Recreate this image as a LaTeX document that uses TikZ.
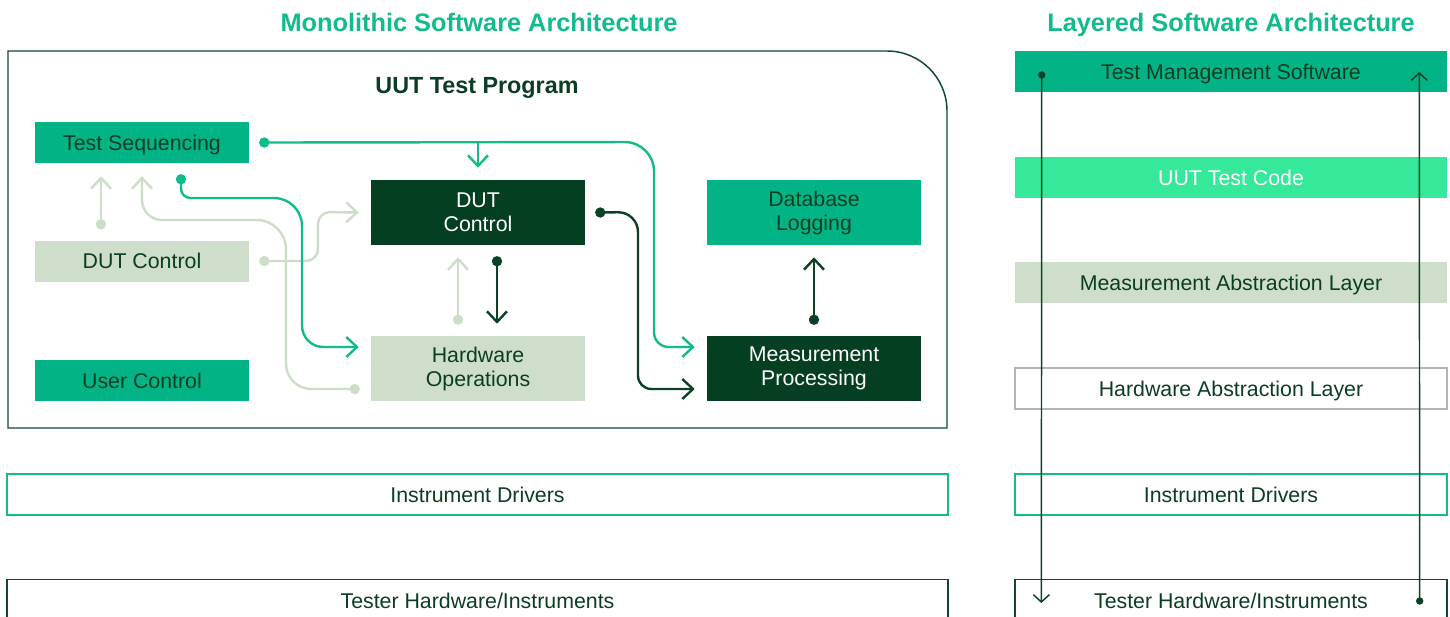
\documentclass[tikz,border=0pt]{standalone}
\usepackage{fontspec}
\setmainfont{Liberation Sans}
\usetikzlibrary{arrows.meta,calc}
\definecolor{dkgreen}{HTML}{053F22}
\definecolor{mdgreen}{HTML}{02B386}
\definecolor{sage}{HTML}{CFDECB}
\definecolor{brgreen}{HTML}{36E899}
\definecolor{ink}{HTML}{0B3D23}
\definecolor{framec}{HTML}{0E4A2B}
\definecolor{graybd}{HTML}{B5B5B5}
\definecolor{lnmd}{HTML}{12BB8B}
\definecolor{lnsage}{HTML}{CCDDC8}
\definecolor{lndk}{HTML}{0B4226}

\begin{document}
\begin{tikzpicture}[x=0.75pt,y=-0.75pt,
  lbl/.style={font=\fontsize{16}{18}\selectfont, text=ink, align=center, inner sep=0pt},
  oneline/.style={lbl, text height=12pt, text depth=0.5pt},
  smallbox/.style={oneline, minimum width=160.5pt, minimum height=30.75pt},
  tallbox/.style={lbl, minimum width=160.5pt, minimum height=48.75pt},
  band/.style={oneline, minimum width=324pt, minimum height=30.75pt},
  wideband/.style={oneline, minimum width=705.75pt, minimum height=30.75pt},
  heading/.style={font=\fontsize{19}{22}\selectfont\bfseries, text=lnmd, inner sep=0pt, anchor=base},
  conn/.style={line width=1.8pt, -{Straight Barb[length=8pt,width=15pt]}},
  thinconn/.style={line width=1.1pt, color=lndk, -{Straight Barb[length=5.5pt,width=12pt]}},
]
\useasboundingbox (0,0) rectangle (1450,617);
\clip (0,0) rectangle (1450,617);

% headings
\node[heading] (h1) at (479,31.5) {Monolithic Software Architecture};
\node[heading] (h2) at (1231,31.5) {Layered Software Architecture};

% outer program frame, rounded at the top right only
\draw[framec, line width=1.1pt] (8,428) -- (8,51) [rounded corners=45pt] -- (947,51) [sharp corners] -- (947,428) -- cycle;
\node[font=\fontsize{17.5}{20}\selectfont\bfseries, text=ink, anchor=base, inner sep=0pt] (prog) at (477,93.5) {UUT Test Program};

% blocks of the test program
\node[smallbox, fill=mdgreen] (ts) at (142,142.5) {Test Sequencing};
\node[smallbox, fill=sage] (dutl) at (142,261) {DUT Control};
\node[smallbox, fill=mdgreen] (uc) at (142,380.5) {User Control};
\node[tallbox, fill=dkgreen, text=white] (dutc) at (478,212.5) {DUT\\Control};
\node[tallbox, fill=sage] (hwo) at (478,368.5) {Hardware\\Operations};
\node[tallbox, fill=mdgreen] (dbl) at (814,212.5) {Database\\Logging};
\node[tallbox, fill=dkgreen, text=white] (mp) at (814,368.5) {Measurement\\Processing};

% lower bands of the monolithic stack
\node[wideband, draw=lnmd, line width=1pt] (idl) at (477.5,494.5) {Instrument Drivers};
\node[wideband, draw=framec, line width=1pt, minimum height=32pt] (thl) at (477.5,601) {Tester Hardware/Instruments};

% layered stack
\node[band, fill=mdgreen] (tms) at (1231,71.5) {Test Management Software};
\node[band, fill=brgreen, text=white] (uut) at (1231,177.5) {UUT Test Code};
\node[band, fill=sage] (mal) at (1231,282.5) {Measurement Abstraction Layer};
\node[band, draw=graybd, line width=1pt] (hal) at (1231,388.5) {Hardware Abstraction Layer};
\node[band, draw=lnmd, line width=1pt] (idr) at (1231,494.5) {Instrument Drivers};
\node[band, draw=framec, line width=1pt, minimum height=32pt] (thr) at (1231,601) {Tester Hardware/Instruments};

% connector anchors
\coordinate (s4) at ($(dutl.north)+(-41,-16)$);
\coordinate (s5) at ($(hwo.west)+(-16,20.5)$);
\coordinate (s3) at ($(dutl.east)+(15,0)$);
\coordinate (s6) at ($(hwo.north)+(-20,-16)$);
\coordinate (g1) at ($(ts.east)+(15,0)$);
\coordinate (g2) at ($(ts.south)+(39,16)$);
\coordinate (d7) at ($(dutc.south)+(19,16)$);
\coordinate (d8) at ($(dutc.east)+(15,0)$);
\coordinate (d9) at ($(mp.north)+(0,-16)$);

% light feedback paths
\draw[conn, lnsage] (s4) -- ($(ts.south)+(-41,13)$);
\draw[conn, lnsage] (s5) [rounded corners=19pt] -- (286,389) [rounded corners=22pt] -- (286,220) [rounded corners=15pt] -- (142,220) [sharp corners] -- ($(ts.south)+(0,13)$);
\draw[conn, lnsage] (s3) [rounded corners=9pt] -- (318,261) -- (318,212) [sharp corners] -- ($(dutc.west)+(-12,0)$);
\draw[conn, lnsage] (s6) -- ($(dutc.south)+(-20,12)$);
\foreach \p in {s4,s5,s3,s6} \fill[lnsage] (\p) circle[radius=3.9pt];

% sequencing paths
\draw[conn, lnmd] (g2) [rounded corners=7pt] -- (181,198) [rounded corners=21pt] -- (302,198) [rounded corners=16pt] -- (302,347) [sharp corners] -- ($(hwo.west)+(-12,-21.5)$);
\draw[conn, lnmd] (g1) [rounded corners=22pt] -- (654,142) [rounded corners=11pt] -- (654,347) [sharp corners] -- ($(mp.west)+(-12,-21.5)$);
\draw[conn, lnmd] (dutc.north |- g1) -- ($(dutc.north)+(0,-12)$);
\foreach \p in {g1,g2} \fill[lnmd] (\p) circle[radius=3.9pt];

% control and measurement paths
\draw[conn, lndk] (d7) -- ($(hwo.north)+(19,-12)$);
\draw[conn, lndk] (d8) [rounded corners=15pt] -- (638,212) [rounded corners=10pt] -- (638,389) [sharp corners] -- ($(mp.west)+(-12,20.5)$);
\draw[conn, lndk] (d9) -- ($(dbl.south)+(0,12)$);
\foreach \p in {d7,d8,d9} \fill[lndk] (\p) circle[radius=3.9pt];

% call paths through the layered stack
\coordinate (r1) at ($(tms.west)+(27,3.5)$);
\coordinate (r2) at ($(thr.east)+(-28,0)$);
\draw[thinconn] (r1) -- ($(thr.west)+(27,2)$);
\draw[thinconn] (r2) -- ($(tms.east)+(-28,0.5)$);
\fill[lndk] (r1) circle[radius=2.8pt];
\fill[lndk] (r2) circle[radius=2.8pt];
\end{tikzpicture}
\end{document}
